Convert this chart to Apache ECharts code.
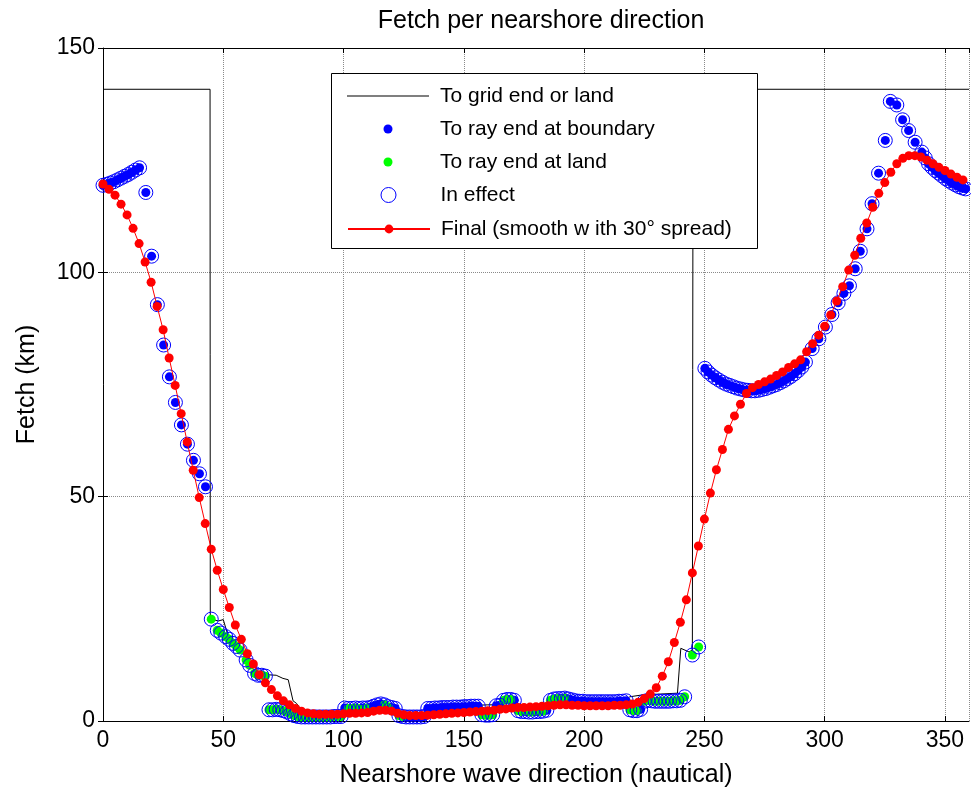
<!DOCTYPE html>
<html><head><meta charset="utf-8">
<script src="https://cdn.jsdelivr.net/npm/echarts@6/dist/echarts.min.js"></script>
<style>html,body{margin:0;padding:0;background:#fff}#c{width:971px;height:794px}</style>
</head><body><div id="c"></div>
<script>
// ---- Data ----
const xTicks = [0, 50, 100, 150, 200, 250, 300, 350];
const yTicks = [0, 50, 100, 150];

// Final (smoothed) fetch
const finalDir = [0,2.5,5,7.5,10,12.5,15,17.5,20,22.5,25,27.5,30,32.5,35,37.5,40,42.5,45,47.5,
50,52.5,55,57.5,60,62.5,65,67.5,70,72.5,75,77.5,80,82.5,85,87.5,90,92.5,95,97.5,
100,102.5,105,107.5,110,112.5,115,117.5,120,122.5,125,127.5,130,132.5,135,137.5,140,142.5,145,147.5,
150,152.5,155,157.5,160,162.5,165,167.5,170,172.5,175,177.5,180,182.5,185,187.5,190,192.5,195,197.5,
200,202.5,205,207.5,210,212.5,215,217.5,220,222.5,225,227.5,230,232.5,235,237.5,240,242.5,245,247.5,
250,252.5,255,257.5,260,262.5,265,267.5,270,272.5,275,277.5,280,282.5,285,287.5,290,292.5,295,297.5,
300,302.5,305,307.5,310,312.5,315,317.5,320,322.5,325,327.5,330,332.5,335,337.5,340,342.5,345,347.5,
350,352.5,355,357.5];
const finalFetch = [119.7,118.5,117.2,115.2,112.8,109.8,106.4,102.3,97.8,92.4,87.2,80.9,74.8,68.5,62.2,55.9,49.8,44,38.3,33.6,
29.3,25.3,21.4,18.2,15,12.7,10.3,8.5,7,5.6,4.5,3.6,2.8,2.2,1.8,1.6,1.5,1.5,1.5,1.5,
1.6,1.7,1.7,1.8,1.9,2.2,2.4,2.4,2.2,1.7,1.4,1.2,1.2,1.2,1.3,1.4,1.5,1.6,1.7,1.8,
1.9,2.0,2.1,2.2,2.3,2.4,2.6,2.7,2.9,3.0,3.0,3.1,3.2,3.3,3.4,3.5,3.6,3.6,3.5,3.5,
3.4,3.4,3.4,3.4,3.4,3.5,3.5,3.6,3.8,4.2,5.0,6.0,7.4,10,13.2,17.5,22,27,33,39,
45,50.8,56,60.5,65,68,70.6,73,74.3,75,75.6,76.2,77,77.8,78.8,79.6,80.5,82.3,84.1,86,
88,90.5,93.6,96.8,100.5,103.8,107.6,111,114.5,117.6,120,122.3,124.2,125.4,126,126,125.7,125,124.2,123.4,
122.7,121.9,121.2,120.6];

// Ray fetch (B = ray end at boundary, L = ray end at land)
const rayDir = [0,1.5,3,4.5,6,7.5,9,10.5,12,13.5,15.2,
17.8,20.2,22.6,25.2,27.6,30.1,32.6,35.1,37.6,40.1,42.6,
45,47.5,49,51,52.5,54,55.5,57,59.5,61,63,64.5,66,67.5,
69,70.5,72,73.5,75,76.5,78,79.5,81,82.5,84,85.5,87,88.5,90,91.5,93,94.5,96,97.5,99,
100.5,102,103.5,105,106.5,108,109.5,111,112.5,114,115.5,117,118.5,120,121.5,
123,124.5,126,127.5,129,130.5,132,133.5,
135,136.5,138,139.5,141,142.5,144,145.5,147,148.5,150,151.5,153,154.5,156,157.5,159,160.5,162,163.5,165,
166.5,168,169.5,171,
172.5,174,175.5,177,178.5,180,181.5,183,184.5,
186,187.5,189,190.5,192,193.5,195,
196.5,198,199.5,201,202.5,204,205.5,207,208.5,210,211.5,213,214.5,216,217.5,
219,220.5,222,223.5,
225,226.5,228,229.5,231,232.5,234,235.5,237,238.5,240,241.8,
245,247.6,
250.2,251.5,253,254.5,256,257.5,259,260.5,262,263.5,265,266.5,268,269.5,271,272.5,274,275.5,277,278.5,280,281.5,283,284.5,286,287.5,289,290.5,292,
294.8,297.6,300.3,303,305.6,308,310.3,312.7,314.8,317.6,319.7,322.4,325.2,327.3,330,332.4,334.9,337.6,340.4,
341.8,343.2,344.6,346,347.4,348.8,350.2,351.6,353,354.4,355.8,357.2,358.6];
const rayFetch = [119.4,119.6,119.9,120.2,120.6,121.0,121.4,121.8,122.3,122.8,123.3,
117.8,103.6,92.8,83.8,76.7,71.0,66.0,61.7,58.1,55.1,52.2,
22.7,20.2,19.6,18.8,18.2,17.3,16.6,15.8,13.6,12.4,10.6,10.2,10.2,10.0,
2.5,2.5,2.6,2.5,2.3,2.0,1.6,1.2,1.0,0.9,0.9,0.9,0.9,0.9,0.9,0.9,0.9,0.9,1.0,1.0,1.0,
2.9,2.8,2.8,2.9,2.8,2.9,2.9,3.0,3.3,3.6,3.8,3.6,3.2,3.0,2.8,
1.2,1.0,0.9,0.9,0.9,0.9,0.9,1.0,
2.8,2.8,2.9,2.9,3.0,3.0,3.0,3.1,3.1,3.1,3.2,3.2,3.3,3.3,3.3,1.4,1.3,1.3,1.4,3.4,3.5,
4.6,4.8,4.8,4.6,
2.3,2.1,2.1,2.0,2.0,2.1,2.1,2.2,2.4,
4.6,4.9,5.0,5.0,5.1,4.9,4.7,
4.5,4.4,4.4,4.3,4.3,4.3,4.3,4.3,4.3,4.3,4.3,4.3,4.4,4.4,4.5,
2.5,2.3,2.3,2.6,
4.4,4.6,4.5,4.4,4.4,4.4,4.4,4.4,4.5,4.5,4.6,5.4,
14.7,16.5,
78.6,77.8,77.1,76.5,76.0,75.5,75.1,74.8,74.5,74.2,74.0,73.8,73.7,73.6,73.6,73.7,73.9,74.1,74.4,74.7,75.0,75.4,75.8,76.3,76.8,77.4,78.1,78.9,80.0,
83.0,85.2,87.8,90.6,93.2,95.3,97.0,100.8,104.7,109.7,115.3,122.1,129.4,138.1,137.3,134.0,131.6,129.0,126.8,
125.5,124.2,123.4,122.7,122.1,121.5,120.9,120.4,119.9,119.5,119.1,118.8,118.6];
const rayKind = ['B','B','B','B','B','B','B','B','B','B','B',
'B','B','B','B','B','B','B','B','B','B','B',
'L','L','L','L','L','L','L','L','L','L','L','L','L','L',
'L','L','L','L','L','L','L','L','L','L','L','L','L','L','L','L','L','L','L','L','L',
'B','L','L','L','L','B','L','B','B','B','B','L','L','B','B',
'L','L','B','B','B','B','B','B',
'B','B','B','B','B','B','B','B','B','B','B','B','B','B','B','L','L','L','L','B','B',
'L','L','L','B',
'L','L','B','L','L','B','L','L','B',
'L','L','L','B','L','B','B',
'B','B','B','B','B','B','B','B','B','B','B','B','B','B','B',
'L','L','L','B',
'L','B','L','L','L','L','L','L','L','L','L','L',
'L','L',
'B','B','B','B','B','B','B','B','B','B','B','B','B','B','B','B','B','B','B','B','B','B','B','B','B','B','B','B','B',
'B','B','B','B','B','B','B','B','B','B','B','B','B','B','B','B','B','B','B',
'B','B','B','B','B','B','B','B','B','B','B','B','B'];

// To grid end or land
const gridDir = [0,44.5,44.6,48,50,52,54,56.5,59.5,61,63,65,68.5,72,74.8,77,79,80.5,82,85,90,100,100.5,110,114,116,120,122,123,134,134.5,150,160,165,166,171.5,172,184.5,185,192,195,218,219,224,238.8,240.2,243.6,245,245.3,360];
const gridFetch = [140.8,140.8,22.7,22.3,22.6,19,18,16.8,14.5,13,11,10.6,10.3,10.2,9.5,9.2,4.5,3.9,2.8,2,1.8,2.2,3.2,3.2,4,4,3.4,3,1.6,1.6,3.3,3.4,3.6,3.6,4.8,4.9,2.6,2.6,5.2,5.8,5.1,5,5.4,5.8,6.2,16.2,15.4,15.8,140.8,140.8];

const seriesNames = ['To grid end or land','To ray end at boundary','To ray end at land','In effect','Final (smooth w ith 30° spread)'];

// ---- Build ----
const FONT = '"Liberation Sans", Arial, Helvetica, sans-serif';
const gridData = gridDir.map((d, i) => [d, gridFetch[i]]);
const finalData = finalDir.map((d, i) => [d, finalFetch[i]]);
const allRays = rayDir.map((d, i) => [d, rayFetch[i]]);
const boundRays = allRays.filter((p, i) => rayKind[i] === 'B');
const landRays = allRays.filter((p, i) => rayKind[i] === 'L');

const chart = echarts.init(document.getElementById('c'), null, {renderer: 'canvas'});

const TEXT_X = 440;      // legend text start
const ICON_CX = 388;     // legend symbol centre
const rowY = [96, 129, 162, 195, 229];
function legendRow(row, name, icon, w, h, extra) {
  const left = (w === 82) ? 347 : ICON_CX - w / 2;
  const pad = TEXT_X - left - w - 5;
  const d = {name: name};
  if (icon) d.icon = icon;
  if (extra) d.itemStyle = extra;
  return {
    orient: 'horizontal', left: left, top: rowY[row] - 12, itemWidth: w, itemHeight: h,
    itemGap: 0, padding: 0, selectedMode: false, z: 20,
    textStyle: {fontSize: 21, color: '#000', fontFamily: FONT, lineHeight: 24, padding: [0, 0, 0, pad]},
    data: [d]
  };
}

const axisCommon = {
  axisLine: {show: true, onZero: false, lineStyle: {color: '#000', width: 1}},
  axisTick: {show: true, inside: true, length: 5, lineStyle: {color: '#000', width: 1}}
};

const option = {
  animation: false,
  backgroundColor: '#fff',
  title: {
    text: 'Fetch per nearshore direction', left: 536, textAlign: 'center', top: 4,
    textStyle: {fontSize: 25, fontWeight: 'normal', color: '#000', fontFamily: FONT}
  },
  grid: {left: 103, right: 2, top: 48, bottom: 73, containLabel: false, outerBoundsMode: 'none'},
  xAxis: [
    Object.assign({
      type: 'value', min: 0, max: 360, interval: 50, position: 'bottom',
      name: 'Nearshore wave direction (nautical)', nameLocation: 'middle', nameGap: 42,
      nameTextStyle: {fontSize: 25, color: '#000', fontFamily: FONT},
      axisLabel: {fontSize: 23, color: '#000', margin: 8, fontFamily: FONT, showMaxLabel: false,
        formatter: v => (xTicks.indexOf(v) >= 0 ? String(v) : '')},
      splitLine: {show: true, lineStyle: {color: '#8a8a8a', type: 'dotted', width: 1}}
    }, axisCommon),
    Object.assign({
      type: 'value', min: 0, max: 360, interval: 50, position: 'top',
      axisLabel: {show: false}, splitLine: {show: false}
    }, axisCommon)
  ],
  yAxis: [
    Object.assign({
      type: 'value', min: 0, max: 150, interval: 50, position: 'left',
      name: 'Fetch (km)', nameLocation: 'middle', nameGap: 63, nameRotate: 90,
      nameTextStyle: {fontSize: 25, color: '#000', fontFamily: FONT},
      axisLabel: {fontSize: 23, color: '#000', margin: 8, fontFamily: FONT,
        formatter: v => (yTicks.indexOf(v) >= 0 ? String(v) : '')},
      splitLine: {show: true, lineStyle: {color: '#8a8a8a', type: 'dotted', width: 1}}
    }, axisCommon),
    {
      type: 'value', min: 0, max: 150, interval: 50, position: 'right',
      axisLine: {show: false},
      axisTick: {show: true, inside: true, length: 5, lineStyle: {color: '#000'}},
      axisLabel: {show: false}, splitLine: {show: false}
    }
  ],
  legend: [
    legendRow(0, seriesNames[0], 'path://M0,0L82,0L82,1L0,1Z', 82, 12),
    legendRow(1, seriesNames[1], 'circle', 9, 9),
    legendRow(2, seriesNames[2], 'circle', 9, 9),
    legendRow(3, seriesNames[3], 'circle', 15, 15,
      {color: 'rgba(0,0,0,0)', borderColor: '#0000ff', borderWidth: 1}),
    legendRow(4, seriesNames[4], null, 82, 11)
  ],
  graphic: [{
    type: 'rect', z: 15, silent: true,
    shape: {x: 331.5, y: 73.5, width: 426, height: 175},
    style: {fill: '#fff', stroke: '#000', lineWidth: 1}
  }],
  series: [
    {
      name: seriesNames[0], type: 'line', data: gridData, showSymbol: false, symbol: 'none',
      clip: false, z: 2, itemStyle: {color: '#000'},
      lineStyle: {color: '#000', width: 1}
    },
    {
      name: seriesNames[1], type: 'scatter', data: boundRays, symbol: 'circle', symbolSize: 9,
      clip: false, z: 2, itemStyle: {color: '#0000ff', opacity: 1}
    },
    {
      name: seriesNames[2], type: 'scatter', data: landRays, symbol: 'circle', symbolSize: 9,
      clip: false, z: 2, itemStyle: {color: '#00ff00', opacity: 1}
    },
    {
      name: seriesNames[3], type: 'scatter', data: allRays, symbol: 'circle', symbolSize: 14,
      clip: false, z: 2,
      itemStyle: {color: 'rgba(0,0,0,0)', borderColor: '#0000ff', borderWidth: 1, opacity: 1}
    },
    {
      name: seriesNames[4], type: 'line', data: finalData, symbol: 'circle', symbolSize: 9,
      showSymbol: true, showAllSymbol: true, clip: false, z: 3,
      itemStyle: {color: '#ff0000', borderWidth: 0},
      lineStyle: {color: '#ff0000', width: 1}
    }
  ]
};
chart.setOption(option);
</script>
</body></html>
